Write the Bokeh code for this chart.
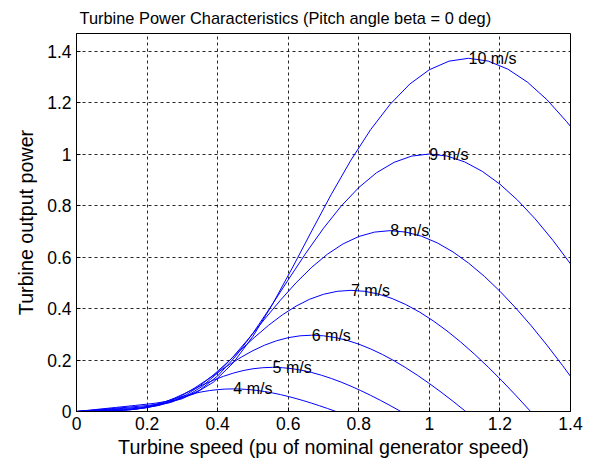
from bokeh.plotting import figure
from bokeh.models import FixedTicker, Range1d, ColumnDataSource
from bokeh.core.properties import value
from bokeh.embed import file_html
from bokeh.resources import INLINE

# ---------------- data ----------------
x_ticks = [0, 0.2, 0.4, 0.6, 0.8, 1.0, 1.2, 1.4]
x_tick_labels = ["0", "0.2", "0.4", "0.6", "0.8", "1", "1.2", "1.4"]
y_ticks = [0, 0.2, 0.4, 0.6, 0.8, 1.0, 1.2, 1.4]
y_tick_labels = ["0", "0.2", "0.4", "0.6", "0.8", "1", "1.2", "1.4"]

speed_4 = [0, 0.0444, 0.0667, 0.0889, 0.1111, 0.1333, 0.1556, 0.1778, 0.2, 0.2222, 0.2444, 0.2667,
           0.2889, 0.3111, 0.3333, 0.3556, 0.3778, 0.4, 0.4222, 0.4444, 0.4667, 0.4889, 0.5111,
           0.5333, 0.5556, 0.5778, 0.6, 0.6222, 0.6444, 0.6667, 0.6889, 0.7111, 0.7333, 0.7354, 1.4]
power_4 = [0, 0.00101, 0.00151, 0.00204, 0.00282, 0.00437, 0.00734, 0.01212, 0.01868, 0.02668,
           0.03561, 0.04489, 0.05399, 0.06248, 0.07002, 0.07636, 0.08138, 0.08495, 0.08708, 0.08779,
           0.08710, 0.08510, 0.08188, 0.07750, 0.07206, 0.06566, 0.05839, 0.05033, 0.04158, 0.03220,
           0.02226, 0.01185, 0.00101, 0, 0]

speed_5 = [0, 0.0556, 0.0833, 0.1111, 0.1389, 0.1667, 0.1944, 0.2222, 0.25, 0.2778, 0.3056, 0.3333,
           0.3611, 0.3889, 0.4167, 0.4444, 0.4722, 0.5, 0.5278, 0.5556, 0.5833, 0.6111, 0.6389,
           0.6667, 0.6944, 0.7222, 0.75, 0.7778, 0.8056, 0.8333, 0.8611, 0.8889, 0.9167, 0.9192, 1.4]
power_5 = [0, 0.00197, 0.00295, 0.00399, 0.00550, 0.00854, 0.01434, 0.02367, 0.03649, 0.05212,
           0.06955, 0.08768, 0.10546, 0.12204, 0.13677, 0.14914, 0.15895, 0.16592, 0.17008, 0.17147,
           0.17012, 0.16622, 0.15992, 0.15136, 0.14074, 0.12825, 0.11405, 0.09831, 0.08121, 0.06289,
           0.04349, 0.02314, 0.00197, 0, 0]

speed_6 = [0, 0.0667, 0.1, 0.1333, 0.1667, 0.2, 0.2333, 0.2667, 0.3, 0.3333, 0.3667, 0.4, 0.4333,
           0.4667, 0.5, 0.5333, 0.5667, 0.6, 0.6333, 0.6667, 0.7, 0.7333, 0.7667, 0.8, 0.8333,
           0.8667, 0.9, 0.9333, 0.9667, 1.0, 1.0333, 1.0667, 1.1, 1.1031, 1.4]
power_6 = [0, 0.00340, 0.00510, 0.00690, 0.00951, 0.01476, 0.02478, 0.04091, 0.06305, 0.09006,
           0.12019, 0.15151, 0.18223, 0.21088, 0.23634, 0.25772, 0.27466, 0.28671, 0.29390, 0.29630,
           0.29397, 0.28723, 0.27634, 0.26155, 0.24320, 0.22162, 0.19707, 0.16987, 0.14033, 0.10867,
           0.07514, 0.03998, 0.00340, 0, 0]

speed_7 = [0, 0.0778, 0.1167, 0.1556, 0.1944, 0.2333, 0.2722, 0.3111, 0.35, 0.3889, 0.4278, 0.4667,
           0.5056, 0.5444, 0.5833, 0.6222, 0.6611, 0.7, 0.7389, 0.7778, 0.8167, 0.8556, 0.8944,
           0.9333, 0.9722, 1.0111, 1.05, 1.0889, 1.1278, 1.1667, 1.2056, 1.2444, 1.2833, 1.2869, 1.4]
power_7 = [0, 0.00540, 0.00810, 0.01095, 0.01510, 0.02343, 0.03935, 0.06496, 0.10012, 0.14301,
           0.19085, 0.24059, 0.28937, 0.33487, 0.37529, 0.40924, 0.43615, 0.45528, 0.46670, 0.47051,
           0.46682, 0.45610, 0.43881, 0.41533, 0.38619, 0.35192, 0.31294, 0.26975, 0.22284, 0.17256,
           0.11933, 0.06349, 0.00540, 0, 0]

speed_8 = [0, 0.0889, 0.1333, 0.1778, 0.2222, 0.2667, 0.3111, 0.3556, 0.4, 0.4444, 0.4889, 0.5333,
           0.5778, 0.6222, 0.6667, 0.7111, 0.7556, 0.8, 0.8444, 0.8889, 0.9333, 0.9778, 1.0222,
           1.0667, 1.1111, 1.1556, 1.2, 1.2444, 1.2889, 1.3333, 1.3778, 1.4]
power_8 = [0, 0.00806, 0.01209, 0.01635, 0.02254, 0.03498, 0.05874, 0.09696, 0.14945, 0.21347,
           0.28488, 0.35912, 0.43195, 0.49986, 0.56019, 0.61088, 0.65105, 0.67960, 0.69664, 0.70233,
           0.69682, 0.68083, 0.65501, 0.61997, 0.57647, 0.52531, 0.46712, 0.40265, 0.33264, 0.25758,
           0.17812, 0.1365]

speed_9 = [0, 0.1, 0.15, 0.2, 0.25, 0.3, 0.35, 0.4, 0.45, 0.5, 0.55, 0.6, 0.65, 0.7, 0.75, 0.8,
           0.85, 0.9, 0.95, 1.0, 1.05, 1.1, 1.15, 1.2, 1.25, 1.3, 1.35, 1.4]
power_9 = [0, 0.01148, 0.01721, 0.02328, 0.03209, 0.04980, 0.08363, 0.13806, 0.21279, 0.30394,
           0.40562, 0.51133, 0.61502, 0.71171, 0.79762, 0.86979, 0.92698, 0.96763, 0.99190, 1.0,
           0.99215, 0.96938, 0.93263, 0.88273, 0.82079, 0.74796, 0.66510, 0.57331]

speed_10 = [0, 0.1111, 0.1667, 0.2222, 0.2778, 0.3333, 0.3889, 0.4444, 0.5, 0.5556, 0.6111, 0.6667,
            0.7222, 0.7778, 0.8333, 0.8889, 0.9444, 1.0, 1.0556, 1.1111, 1.1667, 1.2222, 1.2778,
            1.3333, 1.3889, 1.4]
power_10 = [0, 0.01575, 0.02361, 0.03193, 0.04402, 0.06831, 0.11472, 0.18938, 0.29189, 0.41693,
            0.55641, 0.70141, 0.84365, 0.97628, 1.09413, 1.19313, 1.27158, 1.32734, 1.36063, 1.37174,
            1.36097, 1.32974, 1.27933, 1.21088, 1.12591, 1.1071]

wind_labels = ["4 m/s", "5 m/s", "6 m/s", "7 m/s", "8 m/s", "9 m/s", "10 m/s"]
label_speed = [0.4444, 0.5556, 0.6667, 0.7778, 0.8889, 1.0, 1.1111]
label_power = [0.08779, 0.17147, 0.29630, 0.47051, 0.70233, 1.0, 1.37174]

curves = [(speed_4, power_4), (speed_5, power_5), (speed_6, power_6), (speed_7, power_7),
          (speed_8, power_8), (speed_9, power_9), (speed_10, power_10)]

FONT = "Liberation Sans"

# ---------------- figure ----------------
p = figure(width=586, height=461,
           x_range=Range1d(0, 1.4), y_range=Range1d(0, 1.468),
           output_backend="svg", toolbar_location=None,
           min_border_left=76, min_border_right=16,
           min_border_top=32, min_border_bottom=50)

p.title.text = "Turbine Power Characteristics (Pitch angle beta = 0 deg)"
p.title.align = "left"
p.title.offset = 3
p.title.text_font = FONT
p.title.text_font_size = "16.4px"
p.title.text_font_style = "normal"
p.title.text_color = "black"
p.title.standoff = 13

p.background_fill_color = "white"
p.border_fill_color = "white"
p.outline_line_color = "black"
p.outline_line_width = 1
p.outline_line_alpha = 1.0

for ax, ticks, labels in ((p.xaxis[0], x_ticks, x_tick_labels), (p.yaxis[0], y_ticks, y_tick_labels)):
    ax.ticker = FixedTicker(ticks=ticks)
    ax.major_label_overrides = {t: l for t, l in zip(ticks, labels)}
    ax.major_label_text_font = FONT
    ax.major_label_text_font_size = "17.5px"
    ax.major_label_text_color = "black"
    ax.axis_label_text_font = FONT
    ax.axis_label_text_font_size = "19.7px"
    ax.axis_label_text_font_style = "normal"
    ax.axis_label_text_color = "black"
    ax.axis_line_color = "black"
    ax.major_tick_line_color = "black"
    ax.major_tick_in = 4
    ax.major_tick_out = 0
    ax.minor_tick_line_color = None
    ax.major_label_standoff = 5

p.xaxis.axis_label = "Turbine speed (pu of nominal generator speed)"
p.yaxis.axis_label = "Turbine output power"
p.xaxis.axis_label_standoff = 3
p.yaxis.axis_label_standoff = 7

for g in (p.xgrid[0], p.ygrid[0]):
    g.grid_line_color = "black"
    g.grid_line_dash = "3 3"
    g.grid_line_width = 1
    g.grid_line_alpha = 0.85

for sp, pw in curves:
    p.line(sp, pw, line_color="#0000ff", line_width=1)

src = ColumnDataSource(dict(x=label_speed, y=label_power, t=wind_labels))
p.text(x="x", y="y", text="t", source=src, text_align="left", text_baseline="middle",
       text_font=value(FONT), text_font_size="16px", text_color="black")

open("out.html", "w").write(file_html(p, INLINE))
